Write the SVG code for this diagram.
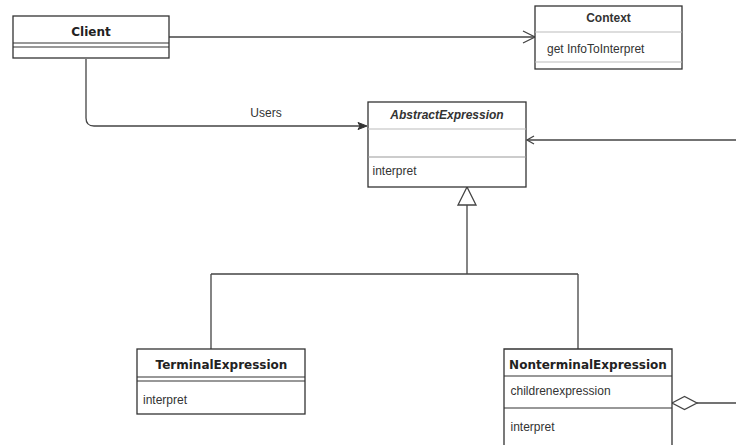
<svg xmlns="http://www.w3.org/2000/svg" width="736" height="445" viewBox="0 0 736 445">
<style>
.box{fill:#fff;stroke:#333;stroke-width:1.3}
.sep{stroke:#333;stroke-width:1.2}
.lsep{stroke:#bbb;stroke-width:1.2}
.msep{stroke:#999;stroke-width:1.2}
.conn{fill:none;stroke:#444;stroke-width:1.3}
.t{font-family:"Liberation Sans",Arial,sans-serif;font-size:12px;fill:#333}
.tb{font-family:"DejaVu Sans",Verdana,sans-serif;font-size:12px;font-weight:bold;fill:#222}
.hb{font-family:"Liberation Sans",Arial,sans-serif;font-size:12px;font-weight:bold;fill:#333}
</style>
<rect width="736" height="445" fill="#fff"/>
<g id="connectors">
  <path class="conn" d="M169 37 H534"/>
  <path class="conn" d="M523 31 L535 37 L523 43"/>
  <path class="conn" d="M86 59 V118 Q86 126 94 126 H360"/>
  <path d="M367 126 L358 122.5 L360 126 L358 129.5 Z" fill="#333" stroke="#333" stroke-width="1"/>
  <text class="t" x="266" y="116.5" text-anchor="middle">Users</text>
  <path class="conn" d="M736 140 H527"/>
  <path class="conn" d="M534 136 L527 140 L534 144"/>
  <path class="conn" d="M467 205 V274 M211 274 H578 M211 274 V349 M578 274 V349"/>
  <path d="M467 187 L458 205 L476 205 Z" fill="#fff" stroke="#444" stroke-width="1.3"/>
  <path class="conn" d="M697 403 H736"/>
  <path d="M672 403 L684.5 396.5 L697 403 L684.5 409.5 Z" fill="#fff" stroke="#444" stroke-width="1.3"/>
</g>
<g id="client">
  <rect class="box" x="13" y="16" width="156" height="42"/>
  <line class="sep" x1="13" y1="43" x2="169" y2="43"/>
  <line class="sep" x1="13" y1="47" x2="169" y2="47"/>
  <text class="tb" x="91" y="36" text-anchor="middle">Client</text>
</g>
<g id="context">
  <rect class="box" x="535" y="6" width="147" height="63"/>
  <line class="lsep" x1="535" y1="32" x2="682" y2="32"/>
  <line class="lsep" x1="535" y1="62" x2="682" y2="62"/>
  <text class="hb" x="608.5" y="21.5" text-anchor="middle">Context</text>
  <text class="t" x="547" y="52.5">get InfoToInterpret</text>
</g>
<g id="abstract">
  <rect class="box" x="368" y="102" width="158" height="85"/>
  <line class="lsep" x1="368" y1="129" x2="526" y2="129"/>
  <line class="msep" x1="368" y1="157" x2="526" y2="157"/>
  <text class="hb" x="447" y="118.5" text-anchor="middle" font-style="italic">AbstractExpression</text>
  <text class="t" x="372.5" y="175">interpret</text>
</g>
<g id="terminal">
  <rect class="box" x="137" y="349" width="168" height="65"/>
  <line class="sep" x1="137" y1="377" x2="305" y2="377"/>
  <line class="sep" x1="137" y1="381" x2="305" y2="381"/>
  <text class="tb" x="221.5" y="368.5" text-anchor="middle">TerminalExpression</text>
  <text class="t" x="143" y="403.5">interpret</text>
</g>
<g id="nonterminal">
  <path class="box" d="M504 447 V349 H672 V447"/>
  <line class="sep" x1="504" y1="376" x2="672" y2="376"/>
  <line class="sep" x1="504" y1="408" x2="672" y2="408"/>
  <text class="tb" x="588" y="368.5" text-anchor="middle">NonterminalExpression</text>
  <text class="t" x="510.5" y="395">childrenexpression</text>
  <text class="t" x="510.5" y="431">interpret</text>
</g>
</svg>
